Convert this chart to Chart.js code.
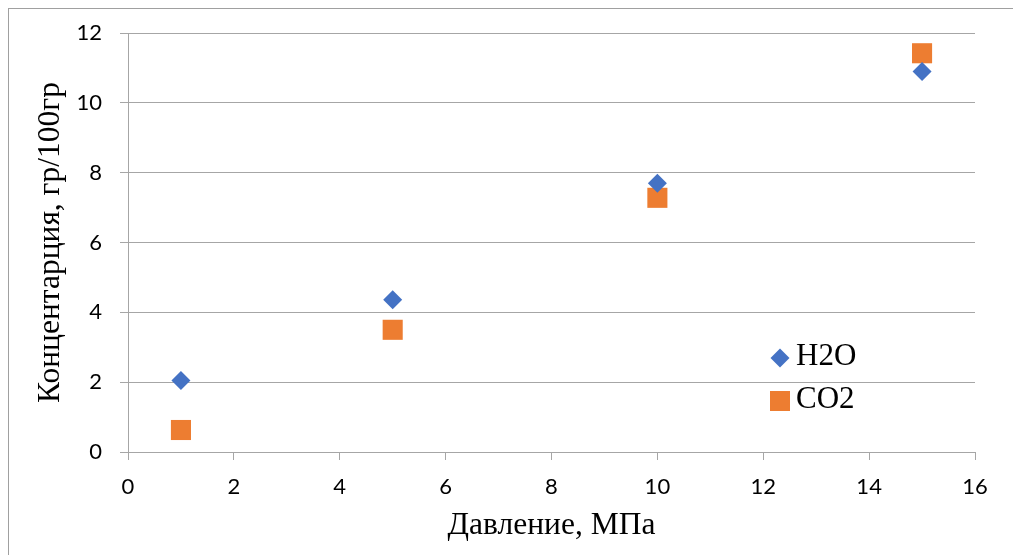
<!DOCTYPE html>
<html>
<head>
<meta charset="utf-8">
<script src="https://cdn.jsdelivr.net/npm/chart.js@4.4.1/dist/chart.umd.min.js"></script>
<style>
  html, body { margin: 0; padding: 0; background: #fff; }
  #wrap { position: relative; width: 1013px; height: 555px; }
</style>
</head>
<body>
<div id="wrap"><canvas id="chart" width="1013" height="555"></canvas></div>
<script>
// values
const pressure = [1, 5, 10, 15];
const h2o = [2.05, 4.36, 7.7, 10.9];
const co2 = [0.63, 3.5, 7.28, 11.42];
const seriesNames = ['H2O', 'CO2'];
const xTitle = 'Давление, МПа';
const yTitle = 'Концентарция, гр/100гр';

const BLUE = '#4472C4';
const ORANGE = '#ED7D31';
const GRID = '#a6a6a6';
const SERIF = "'Liberation Serif', 'Times New Roman', serif";
const SANS = "Lato, 'Open Sans', sans-serif";

const toPoints = ys => pressure.map((x, i) => ({ x: x, y: ys[i] }));

// outer frame of the chart
const framePlugin = {
  id: 'frame',
  beforeDraw(chart) {
    const ctx = chart.ctx;
    ctx.save();
    ctx.strokeStyle = '#a0a0a0';
    ctx.lineWidth = 1;
    ctx.strokeRect(8.5, 8.5, chart.width + 10, chart.height + 10);
    ctx.restore();
  }
};

// legend sits inside the plot, like Excel's
const innerLegend = {
  id: 'innerLegend',
  afterDraw(chart) {
    const ctx = chart.ctx;
    const x = 780, rows = [358, 401];
    ctx.save();
    ctx.font = '31px ' + SERIF;
    ctx.textBaseline = 'middle';
    chart.data.datasets.forEach((ds, i) => {
      const y = rows[i];
      ctx.fillStyle = ds.backgroundColor;
      ctx.beginPath();
      if (ds.pointStyle === 'rectRot') {
        ctx.moveTo(x - 9.5, y);
        ctx.lineTo(x, y - 9.5);
        ctx.lineTo(x + 9.5, y);
        ctx.lineTo(x, y + 9.5);
        ctx.closePath();
      } else {
        ctx.rect(x - 10, y - 10, 20, 20);
      }
      ctx.fill();
      ctx.fillStyle = '#000';
      ctx.fillText(ds.label, x + 16, y - 1);
    });
    ctx.restore();
  }
};

new Chart(document.getElementById('chart'), {
  type: 'scatter',
  data: {
    datasets: [
      {
        label: seriesNames[0],
        data: toPoints(h2o),
        pointStyle: 'rectRot',
        pointRadius: 9.5,
        backgroundColor: BLUE,
        borderColor: BLUE,
        borderWidth: 0
      },
      {
        label: seriesNames[1],
        data: toPoints(co2),
        pointStyle: 'rect',
        pointRadius: 14.2,
        backgroundColor: ORANGE,
        borderColor: ORANGE,
        borderWidth: 0
      }
    ]
  },
  options: {
    responsive: false,
    animation: false,
    devicePixelRatio: 1,
    layout: { padding: { left: 0, top: 33, right: 38, bottom: 0 } },
    plugins: {
      legend: { display: false },
      tooltip: { enabled: false }
    },
    scales: {
      x: {
        type: 'linear',
        min: 0,
        max: 16,
        afterFit: scale => { scale.height = 103; },
        grid: { drawOnChartArea: false, drawTicks: true, tickLength: 8, color: GRID },
        border: { display: true, color: GRID },
        ticks: {
          stepSize: 2,
          padding: 14,
          color: '#000',
          font: { family: SANS, size: 22 }
        },
        title: {
          display: true,
          text: xTitle,
          color: '#000',
          font: { family: SERIF, size: 31.5 },
          padding: { top: 0, bottom: 10 }
        }
      },
      y: {
        min: 0,
        max: 12,
        afterFit: scale => { scale.width = 128; },
        grid: { color: GRID, tickLength: 8 },
        border: { display: true, color: GRID },
        ticks: {
          stepSize: 2,
          padding: 18,
          color: '#000',
          font: { family: SANS, size: 22 }
        },
        title: {
          display: true,
          text: yTitle,
          color: '#000',
          font: { family: SERIF, size: 31.5 },
          padding: { top: 32, bottom: 0 }
        }
      }
    }
  },
  plugins: [framePlugin, innerLegend]
});
</script>
</body>
</html>
